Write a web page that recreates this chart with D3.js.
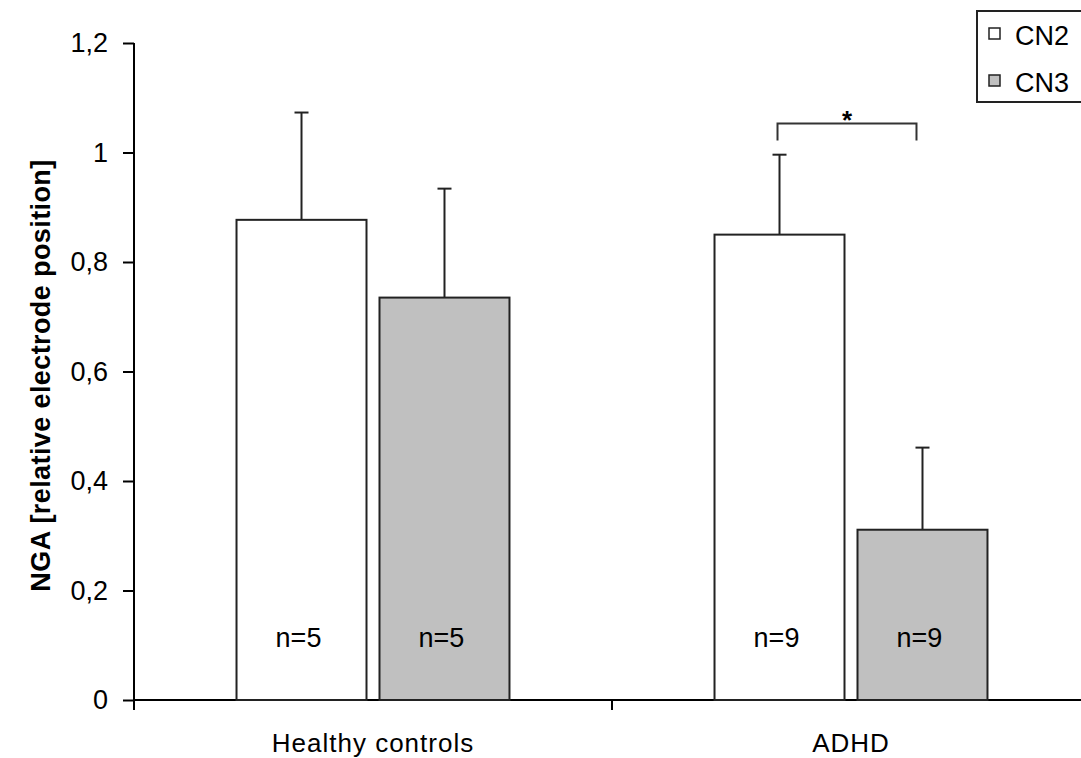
<!DOCTYPE html>
<html>
<head>
<meta charset="utf-8">
<script src="https://cdn.jsdelivr.net/npm/d3@7"></script>
<style>
  body { margin: 0; background: #fff; }
  text { font-family: "Liberation Sans", Arial, sans-serif; fill: #000; }
</style>
</head>
<body>
<div id="vis"></div>
<script>
// data
const groups = ["Healthy controls", "ADHD"]
const series = ["CN2", "CN3"]
const means = [[0.877, 0.735], [0.850, 0.311]]   // [group][series]
const errors = [[0.196, 0.199], [0.146, 0.150]]
const nLabels = [["n=5", "n=5"], ["n=9", "n=9"]]
const yTicks = [0, 0.2, 0.4, 0.6, 0.8, 1, 1.2]
const sig = {group: "ADHD", from: "CN2", to: "CN3", top: 1.053, leg: 1.022, label: "*"}

const W = 1081, H = 758
const margin = {top: 43, right: -9, bottom: 58, left: 134}
const width = W - margin.left - margin.right
const height = H - margin.top - margin.bottom
const fill = d3.scaleOrdinal().domain(series).range(["#ffffff", "#c0c0c0"])

const svg = d3.select('#vis')
    .append('svg')
    .attr('width', W)
    .attr('height', H)

const g = svg.append('g')
    .attr('transform', `translate(${margin.left},${margin.top})`)

const x0 = d3.scaleBand().domain(groups).range([0, width])
const x1 = d3.scaleBand().domain(series).range([0, x0.bandwidth()])
    .paddingInner(0.0909).paddingOuter(0.717)
const y = d3.scaleLinear().domain([0, 1.2]).range([height, 0])

const fmt = d => String(+d.toFixed(1)).replace(".", ",")

// y axis
const yAxis = g.append("g")
    .call(d3.axisLeft(y).tickValues(yTicks).tickFormat(fmt).tickSize(11).tickSizeOuter(0).tickPadding(15))
yAxis.select(".domain").remove()
yAxis.selectAll("line").attr("stroke", "#000").attr("stroke-width", 2)
yAxis.selectAll("text").style("font-size", "27px").attr("fill", "#222")
g.append("line")
    .attr("x1", 0).attr("x2", 0)
    .attr("y1", y(1.2)).attr("y2", height + 10)
    .attr("stroke", "#000").attr("stroke-width", 2)

// x axis
g.append("line")
    .attr("x1", 0).attr("x2", width)
    .attr("y1", height).attr("y2", height)
    .attr("stroke", "#000").attr("stroke-width", 2)
g.selectAll(".xtick")
    .data(groups)
    .join("line")
    .attr("class", "xtick")
    .attr("x1", d => x0(d)).attr("x2", d => x0(d))
    .attr("y1", height).attr("y2", height + 10)
    .attr("stroke", "#000").attr("stroke-width", 2)
g.selectAll(".xlabel")
    .data(groups)
    .join("text")
    .attr("class", "xlabel")
    .attr("x", d => x0(d) + x0.bandwidth() / 2)
    .attr("y", height + 52)
    .attr("text-anchor", "middle")
    .style("font-size", "26px")
    .style("letter-spacing", "1px")
    .attr("fill", "#222")
    .text(d => d)

// y label
svg.append("text")
    .attr("transform", `translate(50,${(margin.top + margin.top + height) / 2 + 4}) rotate(-90)`)
    .attr("text-anchor", "middle")
    .style("font-size", "27px")
    .style("font-weight", "bold")
    .style("letter-spacing", "0.4px")
    .text("NGA [relative electrode position]")

// bars
const rows = groups.flatMap((grp, i) => series.map((s, j) => ({
    group: grp, series: s, mean: means[i][j], err: errors[i][j], n: nLabels[i][j]
})))

const bars = g.selectAll(".bar")
    .data(rows)
    .join("g")
    .attr("class", "bar")
    .attr("transform", d => `translate(${x0(d.group) + x1(d.series)},0)`)

bars.append("line")
    .attr("x1", x1.bandwidth() / 2).attr("x2", x1.bandwidth() / 2)
    .attr("y1", d => y(d.mean)).attr("y2", d => y(d.mean + d.err))
    .attr("stroke", "#222").attr("stroke-width", 2)
bars.append("line")
    .attr("x1", x1.bandwidth() / 2 - 7).attr("x2", x1.bandwidth() / 2 + 7)
    .attr("y1", d => y(d.mean + d.err)).attr("y2", d => y(d.mean + d.err))
    .attr("stroke", "#222").attr("stroke-width", 2)

bars.append("rect")
    .attr("width", x1.bandwidth())
    .attr("y", d => y(d.mean))
    .attr("height", d => height - y(d.mean))
    .attr("fill", d => fill(d.series))
    .attr("stroke", "#222")
    .attr("stroke-width", 2)

bars.append("text")
    .attr("x", x1.bandwidth() / 2 - 3)
    .attr("y", height - 53)
    .attr("text-anchor", "middle")
    .style("font-size", "27px")
    .attr("fill", "#222")
    .text(d => d.n)

// significance bracket
const bx1 = x0(sig.group) + x1(sig.from) + x1.bandwidth() / 2 - 2
const bx2 = x0(sig.group) + x1(sig.to) + x1.bandwidth() / 2 - 6
g.append("path")
    .attr("d", `M${bx1},${y(sig.leg)}V${y(sig.top)}H${bx2}V${y(sig.leg)}`)
    .attr("fill", "none")
    .attr("stroke", "#333")
    .attr("stroke-width", 2)
g.append("text")
    .attr("x", (bx1 + bx2) / 2)
    .attr("y", y(sig.top) + 6)
    .attr("text-anchor", "middle")
    .style("font-size", "26px")
    .style("font-weight", "bold")
    .text(sig.label)

// legend
const legend = svg.append("g").attr("transform", "translate(977,11)")
legend.append("rect")
    .attr("width", 120).attr("height", 91)
    .attr("fill", "#fff").attr("stroke", "#222").attr("stroke-width", 2)
const item = legend.selectAll(".item")
    .data(series)
    .join("g")
    .attr("class", "item")
    .attr("transform", (d, i) => `translate(12,${17 + i * 47})`)
item.append("rect")
    .attr("width", 11).attr("height", 11)
    .attr("fill", d => fill(d))
    .attr("stroke", "#222").attr("stroke-width", 1.5)
item.append("text")
    .attr("x", 26).attr("y", 17)
    .style("font-size", "27px")
    .attr("fill", "#222")
    .text(d => d)
</script>
</body>
</html>
